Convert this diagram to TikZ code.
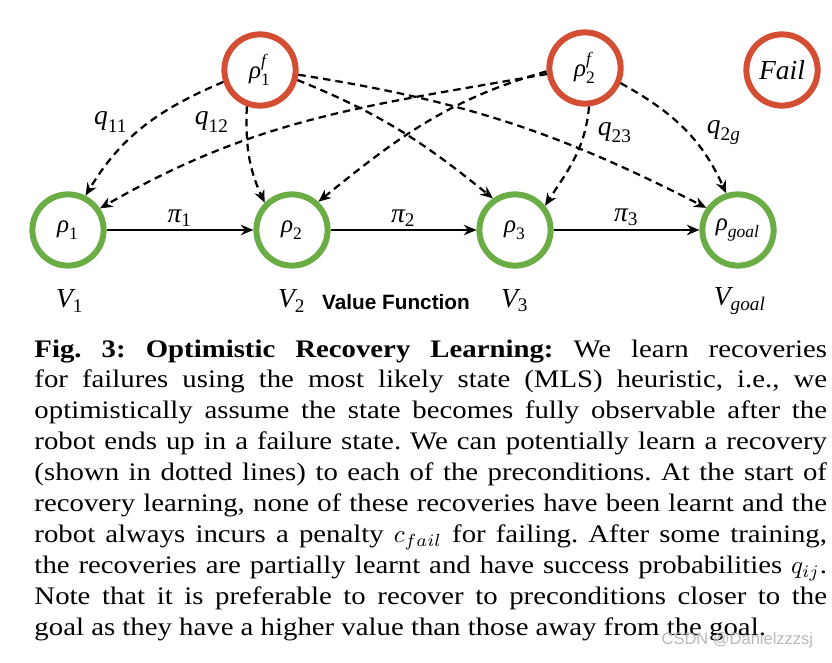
\documentclass[tikz,border=0pt]{standalone}
\usepackage{amsmath}
\usepackage{fontspec}
\setmainfont{Liberation Serif}
\newfontfamily\capfont[FakeStretch=1.14]{Liberation Serif}
\newfontfamily\labelsans{Liberation Sans}
\usetikzlibrary{arrows.meta}

\definecolor{stategreen}{RGB}{106,173,69}
\definecolor{failred}{RGB}{212,78,52}

% Times-like italic letters and upright digits inside math
\newcommand{\mv}[1]{\textit{#1}}
\newcommand{\mn}[1]{\textrm{#1}}

\begin{document}
\begin{tikzpicture}[x=0.4pt, y=0.4pt, >={Stealth[length=5pt,width=4.2pt]},
    state/.style={circle, draw=stategreen, line width=2.4pt, minimum size=28.5pt, inner sep=0pt, font=\fontsize{10}{12}\selectfont},
    fstate/.style={state, draw=failred},
    lbl/.style={font=\fontsize{11}{13}\selectfont, inner sep=1pt},
    policy/.style={->, line width=1.1pt},
    recov/.style={->, line width=0.9pt, dash pattern=on 3pt off 2pt}]

    \useasboundingbox (0,0) rectangle (832,662);

    % preconditions
    \node[state] (r1) at (68,432) {$\mv{ρ}_{\mn{1}}$};
    \node[state] (r2) at (292,432) {$\mv{ρ}_{\mn{2}}$};
    \node[state] (r3) at (515,432) {$\mv{ρ}_{\mn{3}}$};
    \node[state] (rg) at (738,432) {$\mv{ρ}_{\mv{goal}}$};

    % failure states
    \node[fstate] (r1f) at (260,592) {$\mv{ρ}_{\mn{1}}^{\mv{f}}$};
    \node[fstate] (r2f) at (585,594) {$\mv{ρ}_{\mn{2}}^{\mv{f}}$};
    \node[fstate, font=\fontsize{11}{13}\selectfont] (fail) at (782,592) {\textit{Fail}};

    % policies
    \draw[policy] (r1) -- node[lbl, above] {$\mv{π}_{\mn{1}}$} (r2);
    \draw[policy] (r2) -- node[lbl, above] {$\mv{π}_{\mn{2}}$} (r3);
    \draw[policy] (r3) -- node[lbl, above] {$\mv{π}_{\mn{3}}$} (rg);

    % recoveries
    \draw[recov] (r1f.198) to[out=203, in=59] (r1.63);
    \draw[recov] (r1f.250) to[out=268, in=115] (r2.135);
    \draw[recov] (r1f.345) to[out=338, in=141] (r3.125);
    \draw[recov] (r1f.353) to[out=351, in=153] (rg.145);
    \draw[recov] (r2f.189) to[out=190, in=30] (r1.34);
    \draw[recov] (r2f.185) to[out=196, in=39] (r2.47);
    \draw[recov] (r2f.276) to[out=265, in=57] (r3.39);
    \draw[recov] (r2f.337) to[out=331, in=114] (rg.108);

    % recovery probabilities
    \node[lbl] (q11) at (111,540) {$\mv{q}_{\mn{11}}$};
    \node[lbl] (q12) at (212,540) {$\mv{q}_{\mn{12}}$};
    \node[lbl] (q23) at (615,529) {$\mv{q}_{\mn{23}}$};
    \node[lbl] (q2g) at (724,529) {$\mv{q}_{\mn{2}\mv{g}}$};

    % values
    \node[lbl] (v1) at (70,361) {$\mv{V}_{\mn{1}}$};
    \node[lbl] (v2) at (292,361) {$\mv{V}_{\mn{2}}$};
    \node[lbl] (v3) at (515,361) {$\mv{V}_{\mn{3}}$};
    \node[lbl] (vg) at (740,361) {$\mv{V}_{\mv{goal}}$};
    \node[font=\labelsans\bfseries\fontsize{8.3}{10}\selectfont] (vf) at (396,360) {Value Function};

    % caption
    \node[anchor=north west, inner sep=0pt, text width=317pt, align=justify,
          font=\capfont\fontsize{10.1}{12.36}\selectfont] (cap) at (34,323)
    {\frenchspacing\hyphenpenalty=10000\tolerance=10000
     \textbf{Fig. 3: Optimistic Recovery Learning:} We learn recoveries\linebreak
     for failures using the most likely state (MLS) heuristic, i.e., we\linebreak
     optimistically assume the state becomes fully observable after the\linebreak
     robot ends up in a failure state. We can potentially learn a recovery\linebreak
     (shown in dotted lines) to each of the preconditions. At the start of\linebreak
     recovery learning, none of these recoveries have been learnt and the\linebreak
     robot always incurs a penalty $c_{fail}$ for failing. After some training,\linebreak
     the recoveries are partially learnt and have success probabilities $q_{ij}$.\linebreak
     Note that it is preferable to recover to preconditions closer to the\linebreak
     goal as they have a higher value than those away from the goal.};

    \node[anchor=east, text=gray!55, font=\labelsans\fontsize{6.6}{8}\selectfont] (wm) at (822,22) {CSDN @Danielzzzsj};

\end{tikzpicture}
\end{document}
